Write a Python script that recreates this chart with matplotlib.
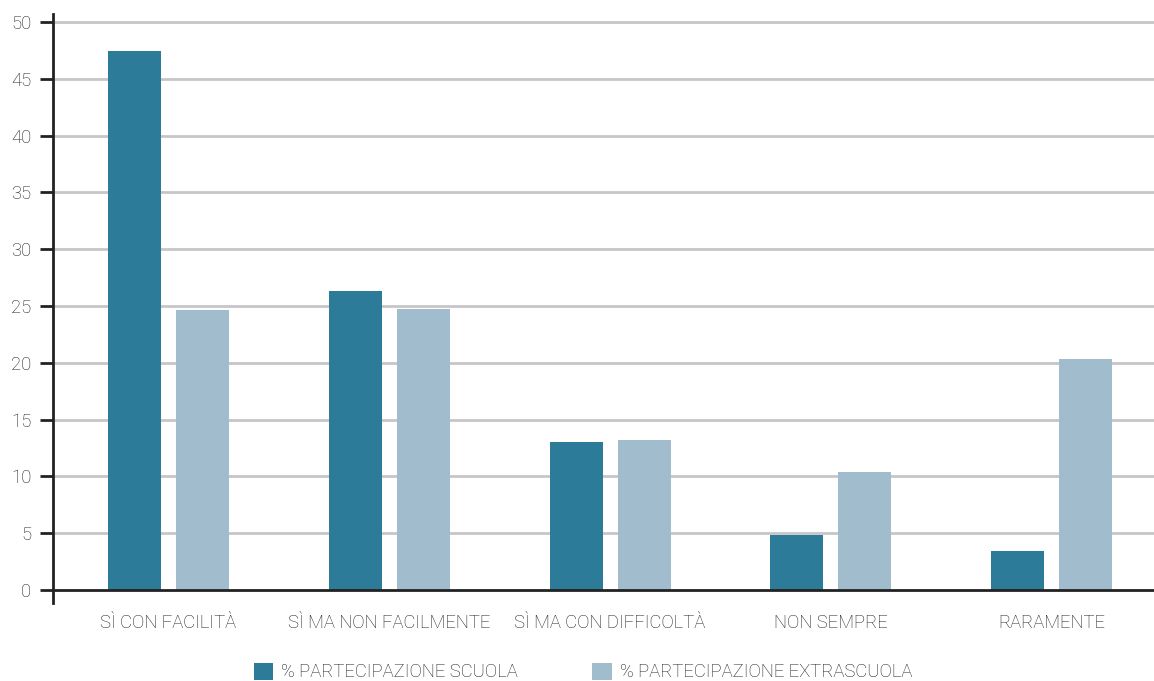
import matplotlib
matplotlib.use("Agg")
import matplotlib.pyplot as plt
import numpy as np
from matplotlib.patches import Patch

categories = ["SÌ CON FACILITÀ", "SÌ MA NON FACILMENTE", "SÌ MA CON DIFFICOLTÀ", "NON SEMPRE", "RARAMENTE"]
scuola = [47.4, 26.3, 13.0, 4.8, 3.4]
extrascuola = [24.6, 24.7, 13.2, 10.4, 20.3]
series_names = ["% PARTECIPAZIONE SCUOLA", "% PARTECIPAZIONE EXTRASCUOLA"]
yticks = [0, 5, 10, 15, 20, 25, 30, 35, 40, 45, 50]

plt.rcParams['font.family'] = ['Roboto', 'DejaVu Sans']
plt.rcParams['font.weight'] = 'light'

dark = "#2C7B99"
light = "#A1BCCD"
txt = "#1e1e1e"
fs = 13.3

W, H = 1154, 681
fig = plt.figure(figsize=(W/100, H/100), dpi=100)
ax = fig.add_axes([53/W, 1-603/H, 1-53/W, (603-14)/H])

x = np.arange(len(categories))
bw = 0.24
off = 0.154
ax.bar(x - off, scuola, width=bw, color=dark, zorder=3)
ax.bar(x + off, extrascuola, width=bw, color=light, zorder=3)

ax.set_xlim(-0.523, 4.464)
ax.set_ylim(-1.15, 50.7)
ax.set_yticks(yticks)
for v in yticks[1:]:
    ax.axhline(v, color="#C6C6CA", lw=2, zorder=1)
ax.axhline(0, color="#222222", lw=2, zorder=4)

for s in ["top", "right", "bottom"]:
    ax.spines[s].set_visible(False)
ax.spines["left"].set_color("#222222")
ax.spines["left"].set_linewidth(2)

ax.tick_params(axis="y", length=9.5, width=2, color="#222222", labelsize=fs, labelcolor=txt, pad=6)
ax.set_xticks(x)
ax.set_xticklabels(categories)
ax.tick_params(axis="x", length=0, labelsize=fs, labelcolor=txt, pad=8)

handles = [Patch(facecolor=dark, edgecolor="none"), Patch(facecolor=light, edgecolor="none")]
fig.legend(handles, series_names, loc="center", bbox_to_anchor=(583/W, 1-672/H), ncol=2,
           frameon=False, fontsize=fs, labelcolor=txt, handlelength=1.05, handleheight=1.05,
           handletextpad=0.45, columnspacing=4.0)

fig.savefig("out.png", dpi=100, facecolor="white")
